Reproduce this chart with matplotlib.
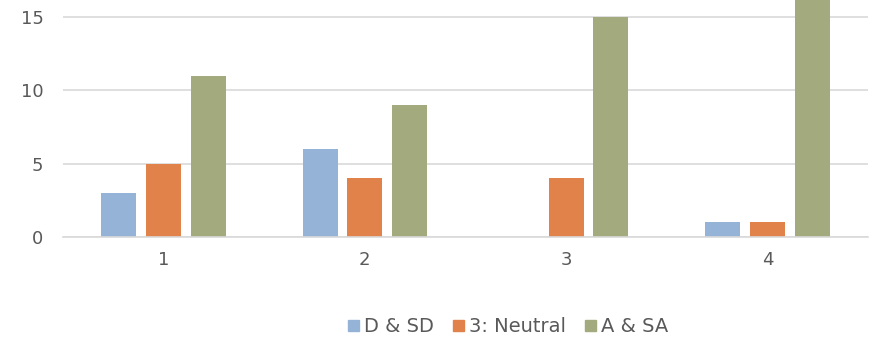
import matplotlib.pyplot as plt
import numpy as np
from matplotlib.patches import Patch

categories = ["1", "2", "3", "4"]
series_names = ["D & SD", "3: Neutral", "A & SA"]
d_sd = [3, 6, 0, 1]
neutral = [5, 4, 4, 1]
a_sa = [11, 9, 15, 17]
colors = ["#95B3D7", "#E0824A", "#A3AA7E"]

plt.rcParams["font.family"] = ["DejaVu Sans"]
text_color = "#595959"

fig = plt.figure(figsize=(8.73, 3.40), dpi=100)
ax = fig.add_axes([63 / 873, 1 - 237 / 340, (868 - 63) / 873, 237 / 340])

x = np.arange(len(categories))
width = 0.174
step = 0.222
for k, (vals, c) in enumerate(zip([d_sd, neutral, a_sa], colors)):
    ax.bar(x + (k - 1) * step, vals, width=width, color=c, zorder=3)

ax.set_xlim(-0.5, 3.5)
ax.set_ylim(0, 16.16)
ax.set_yticks([0, 5, 10, 15])
ax.set_xticks(x)
ax.set_xticklabels(categories)
ax.yaxis.grid(True, color="#D9D9D9", linewidth=1.2, zorder=0)
for s in ["top", "right", "left"]:
    ax.spines[s].set_visible(False)
ax.spines["bottom"].set_color("#D9D9D9")
ax.spines["bottom"].set_linewidth(1.2)
ax.spines["bottom"].set_zorder(4)
ax.tick_params(length=0, labelsize=13, labelcolor=text_color)
ax.tick_params(axis="y", pad=14)
ax.tick_params(axis="x", pad=10)

handles = [Patch(color=c, label=n) for c, n in zip(colors, series_names)]
fig.legend(handles=handles, loc="center", bbox_to_anchor=(508 / 873, 1 - 327 / 340),
           ncol=3, frameon=False, fontsize=14, labelcolor=text_color,
           handlelength=0.55, handleheight=0.55, handletextpad=0.25, columnspacing=1.0)

fig.savefig("out.png", dpi=100)
